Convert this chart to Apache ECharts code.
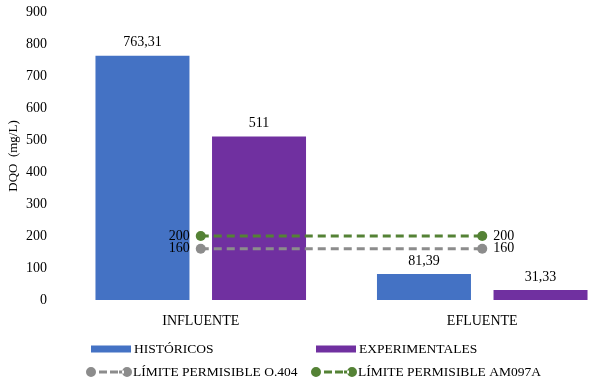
<!DOCTYPE html>
<html><head><meta charset="utf-8">
<script src="https://cdn.jsdelivr.net/npm/echarts@6/dist/echarts.min.js"></script>
<style>html,body{margin:0;padding:0;background:#fff}#c{width:593px;height:382px}</style>
</head><body><div id="c"></div>
<script>
const categories = ['INFLUENTE', 'EFLUENTE'];
const historicos = [763.31, 81.39];
const experimentales = [511, 31.33];
const limiteO404 = [160, 160];
const limiteAM097A = [200, 200];
const yTicks = {min: 0, max: 900, interval: 100};
const names = ['HISTÓRICOS', 'EXPERIMENTALES', 'LÍMITE PERMISIBLE O.404', 'LÍMITE PERMISIBLE AM097A'];

const font = 'Liberation Serif, Times New Roman, serif';
const fmt = v => String(v).replace('.', ',');
const lineData = arr => arr.map((v, i) => ({
  value: v,
  label: {position: i === 0 ? 'left' : 'right'}
}));
const txt = {fontFamily: font, fontSize: 14, color: '#000'};
const legTxt = {fontFamily: font, fontSize: 13.5, color: '#000'};
const lineIcon = 'path://M0,5a5,5 0 1,0 10,0a5,5 0 1,0 -10,0Z M13,3.5h8v3h-8Z M24,3.5h8v3h-8Z M33,3.5h5v3h-5Z M36,5a5,5 0 1,0 10,0a5,5 0 1,0 -10,0Z';

const chart = echarts.init(document.getElementById('c'));
chart.setOption({
  animation: false,
  textStyle: {fontFamily: font},
  grid: {left: 60, top: 12, width: 563, height: 288, containLabel: false, outerBoundsMode: 'none'},
  xAxis: {
    type: 'category', data: categories,
    axisLine: {show: false}, axisTick: {show: false},
    axisLabel: Object.assign({margin: 14}, txt)
  },
  yAxis: {
    type: 'value', min: yTicks.min, max: yTicks.max, interval: yTicks.interval,
    name: 'DQO  (mg/L)', nameLocation: 'middle', nameGap: 40, nameRotate: 90,
    nameMoveOverlap: false,
    nameTextStyle: {fontFamily: font, fontSize: 13, color: '#000'},
    splitLine: {show: false}, axisLine: {show: false}, axisTick: {show: false},
    axisLabel: Object.assign({margin: 13}, txt)
  },
  legend: [
    {data: [names[0]], left: 86, top: 337, itemWidth: 40, itemHeight: 7, textStyle: Object.assign({padding: [0,0,0,-2]}, legTxt), icon: 'rect'},
    {data: [names[1]], left: 311, top: 337, itemWidth: 40, itemHeight: 7, textStyle: Object.assign({padding: [0,0,0,-2]}, legTxt), icon: 'rect'},
    {data: [names[2]], left: 81, top: 360, itemWidth: 46, itemHeight: 10, icon: lineIcon, textStyle: Object.assign({padding: [0,0,0,-4]}, legTxt)},
    {data: [names[3]], left: 306, top: 360, itemWidth: 46, itemHeight: 10, icon: lineIcon, textStyle: Object.assign({padding: [0,0,0,-4]}, legTxt)}
  ],
  series: [
    {
      name: names[0], type: 'bar', data: historicos, barWidth: 94, barGap: '24%',
      itemStyle: {color: '#4472C4'},
      label: Object.assign({show: true, position: 'top', distance: 6, formatter: p => fmt(p.value)}, txt)
    },
    {
      name: names[1], type: 'bar', data: experimentales, barWidth: 94,
      itemStyle: {color: '#7030A0'},
      label: Object.assign({show: true, position: 'top', distance: 6, formatter: p => fmt(p.value)}, txt)
    },
    {
      name: names[2], type: 'line', data: lineData(limiteO404),
      symbol: 'circle', symbolSize: 10,
      lineStyle: {color: '#8C8C8C', type: [8, 5], width: 3},
      itemStyle: {color: '#8C8C8C'},
      label: Object.assign({show: true, distance: 6}, txt)
    },
    {
      name: names[3], type: 'line', data: lineData(limiteAM097A),
      symbol: 'circle', symbolSize: 10,
      lineStyle: {color: '#548235', type: [8, 5], width: 3},
      itemStyle: {color: '#548235'},
      label: Object.assign({show: true, distance: 6}, txt)
    }
  ]
});
</script></body></html>
